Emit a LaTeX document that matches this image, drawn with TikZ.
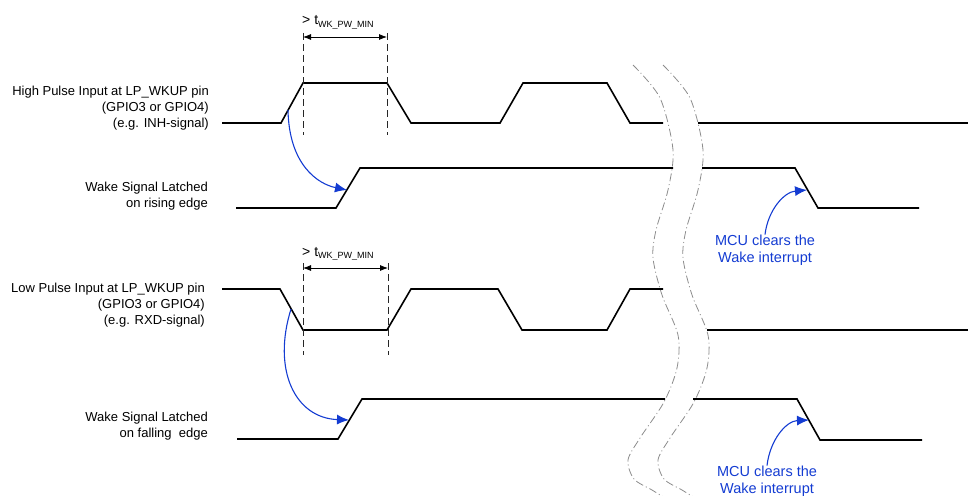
\documentclass[tikz,border=0pt]{standalone}
\usepackage{fontspec}
\setmainfont{Liberation Sans}
\usetikzlibrary{arrows.meta}
\definecolor{tiblue}{RGB}{20,60,210}
\definecolor{brk}{RGB}{140,140,140}
\begin{document}
\begin{tikzpicture}[x=1pt,y=-1pt,
  sig/.style={line width=1.6pt, line join=miter},
  lbl/.style={font=\fontsize{13}{16}\selectfont, align=right, anchor=east, inner sep=0pt},
  mcu/.style={font=\fontsize{14.5}{17}\selectfont, text=tiblue, align=center, inner sep=0pt},
  tlbl/.style={font=\fontsize{14}{16}\selectfont, anchor=base west, inner sep=0pt},
  guide/.style={line width=0.8pt, black!85, dash pattern=on 7pt off 4pt},
  dim/.style={line width=0.8pt, {Latex[length=8pt,width=6pt]}-{Latex[length=8pt,width=6pt]}},
  barrow/.style={line width=1.1pt, tiblue, -{Latex[length=12pt,width=10pt]}},
  brkline/.style={line width=0.8pt, brk, dash pattern=on 8pt off 3pt on 1pt off 3pt}]
\useasboundingbox (0,0) rectangle (968,495);

% signal labels
\node[lbl] (l1) at (209,108) {High Pulse Input at LP\_WKUP pin\\(GPIO3 or GPIO4)\\(e.g. INH-signal)};
\node[lbl] (l2) at (208,196) {Wake Signal Latched\\on rising edge};
\node[lbl] (l3) at (205,305) {Low Pulse Input at LP\_WKUP pin\\(GPIO3 or GPIO4)\\(e.g. RXD-signal)};
\node[lbl] (l4) at (208,426) {Wake Signal Latched\\on falling\ \ edge};

% waveforms
\draw[sig] (222,123) -- (281,123) -- (303,83) -- (387,83) -- (411,123) -- (500,123) -- (523,83) -- (607,83) -- (630,123) -- (663,123);
\draw[sig] (698,123) -- (968,123);
\draw[sig] (236,208) -- (336,208) -- (360,168) -- (673,168);
\draw[sig] (702,168) -- (795,168) -- (818,208) -- (919,208);
\draw[sig] (222,289) -- (280,289) -- (303,330) -- (387,330) -- (411,289) -- (498,289) -- (522,330) -- (607,330) -- (630,289) -- (663,289);
\draw[sig] (707,330) -- (968,330);
\draw[sig] (237,439) -- (338,439) -- (362,399) -- (665,399);
\draw[sig] (693,399) -- (797,399) -- (820,440) -- (922,440);

% timing guides
\coordinate (g1t) at (303,33); \coordinate (g1b) at (303,135);
\coordinate (g2t) at (387,33); \coordinate (g2b) at (387,135);
\coordinate (g3t) at (303,263); \coordinate (g3b) at (303,355);
\coordinate (g4t) at (388,263); \coordinate (g4b) at (388,355);
\draw[guide] (g1t) -- (g1b);
\draw[guide] (g2t) -- (g2b);
\draw[guide] (g3t) -- (g3b);
\draw[guide] (g4t) -- (g4b);
\coordinate (d1a) at (303,37); \coordinate (d1b) at (387,37);
\coordinate (d2a) at (303,268); \coordinate (d2b) at (388,268);
\draw[dim] (d1a) -- (d1b);
\draw[dim] (d2a) -- (d2b);
\node[tlbl] (t1) at (302,25) {> t\raisebox{-2.5pt}{\fontsize{9}{9}\selectfont WK\_PW\_MIN}};
\node[tlbl] (t2) at (302,256) {> t\raisebox{-2.5pt}{\fontsize{9}{9}\selectfont WK\_PW\_MIN}};

% causal arrows
\coordinate (a1) at (288,110); \coordinate (b1) at (347,190);
\coordinate (a2) at (291,309); \coordinate (b2) at (349,420);
\draw[barrow] (a1) .. controls (289,165) and (318,184) .. (b1);
\draw[barrow] (a2) .. controls (272,370) and (295,418) .. (b2);

% MCU notes
\node[mcu] (m1) at (765,250) {MCU clears the\\Wake interrupt};
\node[mcu] (m2) at (767,481) {MCU clears the\\Wake interrupt};
\coordinate (c1) at (807,190);
\coordinate (c2) at (809,420);
\draw[barrow] (m1.north) .. controls (768,210) and (784,192) .. (c1);
\draw[barrow] (m2.north) .. controls (770,440) and (786,421) .. (c2);

% break marks
\draw[brkline] plot[smooth] coordinates {(633,65) (660,98) (673,150) (668,190) (656,230) (653,258) (662,295) (678,335) (677,368) (664,402) (640,438) (628,460) (634,479) (652,490) (665,498)};
\draw[brkline] plot[smooth] coordinates {(663,65) (690,98) (703,150) (698,190) (686,230) (683,258) (692,295) (708,335) (707,368) (694,402) (670,438) (658,460) (664,479) (682,490) (695,498)};
\end{tikzpicture}
\end{document}
